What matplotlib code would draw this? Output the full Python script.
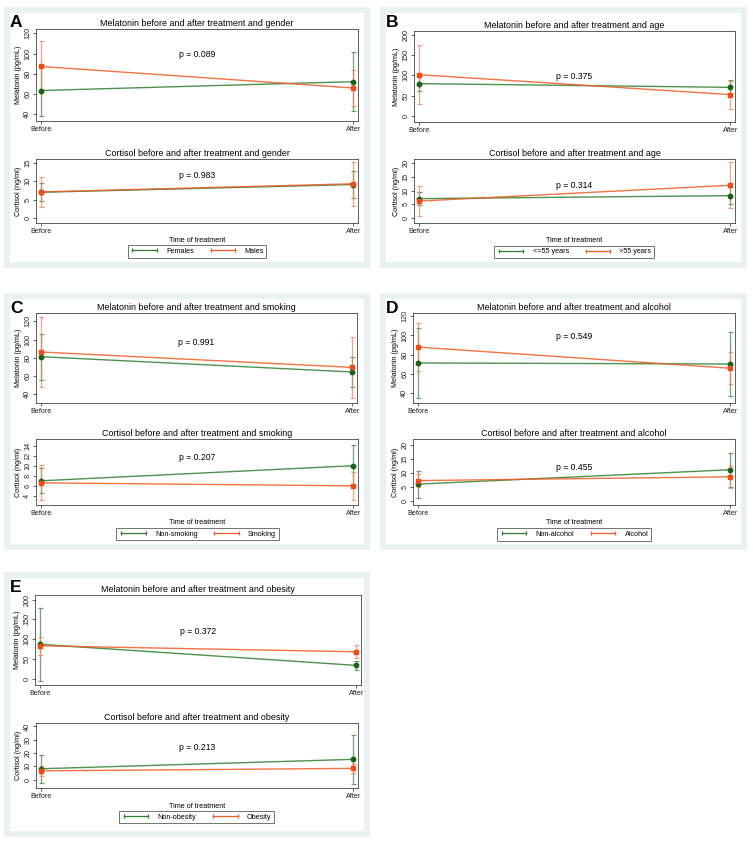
import matplotlib
matplotlib.use("Agg")
import matplotlib.pyplot as plt
from matplotlib.patches import Rectangle
from matplotlib.lines import Line2D

plt.rcParams['font.family'] = ['Liberation Sans', 'DejaVu Sans']

W, H = 753, 844

timepoints = ["Before", "After"]
x_pos = [0, 1]

# A - gender
groups_A = ["Females", "Males"]
mel_A_mean = [[63.5, 72.3], [87.3, 66.0]]
mel_A_err = [[25.3, 29.5], [25.0, 17.3]]
cort_A_mean = [[7.0, 9.1], [7.1, 9.3]]
cort_A_err = [[2.4, 3.6], [4.1, 6.0]]
p_A = ["p = 0.089", "p = 0.983"]

# B - age
groups_B = ["<=55 years", ">55 years"]
mel_B_mean = [[79.6, 70.5], [101.7, 52.6]]
mel_B_err = [[18.5, 17.0], [72.5, 34.6]]
cort_B_mean = [[7.1, 8.2], [6.2, 12.0]]
cort_B_err = [[2.3, 3.2], [5.5, 8.4]]
p_B = ["p = 0.375", "p = 0.314"]

# C - smoking
groups_C = ["Non-smoking", "Smoking"]
mel_C_mean = [[81.1, 64.2], [86.3, 69.3]]
mel_C_err = [[25.5, 16.5], [38.6, 34.0]]
cort_C_mean = [[7.0, 10.0], [6.6, 6.0]]
cort_C_err = [[2.5, 4.1], [3.5, 2.8]]
p_C = ["p = 0.991", "p = 0.207"]

# D - alcohol
groups_D = ["Non-alcohol", "Alcohol"]
mel_D_mean = [[71.4, 70.3], [87.9, 65.9]]
mel_D_err = [[36.4, 33.3], [24.6, 16.7]]
cort_D_mean = [[6.0, 11.1], [7.25, 8.6]]
cort_D_err = [[4.8, 6.0], [2.4, 3.8]]
p_D = ["p = 0.549", "p = 0.455"]

# E - obesity
groups_E = ["Non-obesity", "Obesity"]
mel_E_mean = [[87.5, 34.3], [83.6, 68.6]]
mel_E_err = [[92.0, 12.0], [22.0, 16.3]]
cort_E_mean = [[8.1, 15.2], [6.5, 8.4]]
cort_E_err = [[10.5, 18.5], [3.5, 3.5]]
p_E = ["p = 0.372", "p = 0.213"]

line_cols = ["#2f7f2f", "#f05a24"]
mark_cols = ["#1b611b", "#f04c14"]
err_cols = ["#3c8a3c", "#f0855a"]
markers = ["o", "s"]


def box(l, t, r, b):
    return [l / W, 1 - b / H, (r - l) / W, (b - t) / H]


def panel_frame(fig, l, t, r, b):
    fig.add_artist(Rectangle((l / W, 1 - b / H), (r - l) / W, (b - t) / H,
                             transform=fig.transFigure, facecolor="#eaf1f1",
                             edgecolor="none", zorder=-2))
    d = 6
    fig.add_artist(Rectangle(((l + d) / W, 1 - (b - d) / H), (r - l - 2 * d) / W,
                             (b - t - 2 * d) / H, transform=fig.transFigure,
                             facecolor="white", edgecolor="none", zorder=-1))


def draw_plot(fig, rect, means, errs, title, ylabel, yticks, ylim, ptxt, py, xlabel=False):
    l, t, r, b = rect
    ax = fig.add_axes(box(l, t, r, b))
    for i in range(2):
        ax.errorbar(x_pos, means[i], yerr=errs[i], fmt="none", ecolor=err_cols[i],
                    elinewidth=0.9, capsize=1.8, capthick=0.9, alpha=0.75, zorder=2)
    for i in range(2):
        ax.plot(x_pos, means[i], color=line_cols[i], lw=1.0, alpha=0.85, zorder=3)
        ax.plot(x_pos, means[i], linestyle="none", marker=markers[i], ms=3.2,
                color=mark_cols[i], zorder=4)
    ax.set_xlim(-0.015, 1.015)
    ax.set_ylim(*ylim)
    ax.set_xticks(x_pos)
    ax.set_xticklabels(timepoints)
    ax.set_yticks(yticks)
    ax.set_yticklabels([str(v) for v in yticks], rotation=90, va="center")
    ax.tick_params(labelsize=5.2, length=2.2, width=0.5, pad=1.2, colors="#222222")
    for s in ax.spines.values():
        s.set_linewidth(0.6)
        s.set_color("#444444")
    ax.set_ylabel(ylabel, fontsize=5.2, labelpad=1.5)
    ax.text(0.5, py, ptxt, transform=ax.transAxes, ha="center", va="center", fontsize=6.2)
    fig.text((l + r) / 2 / W, 1 - (t - 5.5) / H, title, ha="center", va="center", fontsize=6.4)
    if xlabel:
        ax.set_xlabel("Time of treatment", fontsize=5.2, labelpad=2)
    return ax


def make_panel(fig, letter, frame, top_rect, bot_rect, groups, mel_m, mel_e, cort_m, cort_e,
               pvals, pys, topic, mel_ticks, mel_lim, cort_ticks, cort_lim, leg_xy):
    panel_frame(fig, *frame)
    fig.text((frame[0] + 6) / W, 1 - (frame[1] + 20) / H, letter, fontsize=12.5,
             fontweight="bold", ha="left", va="baseline")
    draw_plot(fig, top_rect, mel_m, mel_e, "Melatonin before and after treatment and " + topic,
              "Melatonin (pg/mL)", mel_ticks, mel_lim, pvals[0], pys[0])
    draw_plot(fig, bot_rect, cort_m, cort_e, "Cortisol before and after treatment and " + topic,
              "Cortisol (ng/ml)", cort_ticks, cort_lim, pvals[1], pys[1], xlabel=True)
    handles = [Line2D([0, 1], [0, 0], color=line_cols[i], lw=0.9, marker="|", ms=3.5,
                      mew=0.9) for i in range(2)]
    leg = fig.legend(handles, groups, loc="center", ncol=2, numpoints=2,
                     bbox_to_anchor=(leg_xy[0] / W, 1 - leg_xy[1] / H),
                     fontsize=5.2, handlelength=4.0, handletextpad=1.0, columnspacing=2.0,
                     borderpad=0.35, frameon=True, fancybox=False)
    leg.get_frame().set_edgecolor("#333333")
    leg.get_frame().set_linewidth(0.6)


def main():
    fig = plt.figure(figsize=(W / 100, H / 100), dpi=100)
    fig.patch.set_facecolor("white")

    make_panel(fig, "A", (4, 7, 370, 268), (36, 29, 358, 121), (36, 159, 358, 223),
               groups_A, mel_A_mean, mel_A_err, cort_A_mean, cort_A_err, p_A, (0.725, 0.75),
               "gender", [40, 60, 80, 100, 120], (33.4, 124.3), [0, 5, 10, 15], (-1.3, 16),
               (197, 251.5))
    make_panel(fig, "B", (380, 7, 747, 268), (414, 31, 735, 122), (414, 159, 735, 223),
               groups_B, mel_B_mean, mel_B_err, cort_B_mean, cort_B_err, p_B, (0.505, 0.58),
               "age", [0, 50, 100, 150, 200], (-14.7, 209), [0, 5, 10, 15, 20], (-1.8, 21.6),
               (574, 251.7))
    make_panel(fig, "C", (4, 293, 370, 550), (36, 313, 357, 403), (36, 439, 358, 505),
               groups_C, mel_C_mean, mel_C_err, cort_C_mean, cort_C_err, p_C, (0.674, 0.723),
               "smoking", [40, 60, 80, 100, 120], (30, 129.3), [4, 6, 8, 10, 12, 14], (2.2, 15.3),
               (197.5, 534))
    make_panel(fig, "D", (380, 293, 747, 550), (413, 313, 735, 403), (413, 439, 735, 505),
               groups_D, mel_D_mean, mel_D_err, cort_D_mean, cort_D_err, p_D, (0.737, 0.565),
               "alcohol", [40, 60, 80, 100, 120], (29.7, 123.4), [0, 5, 10, 15, 20], (-1.4, 22),
               (574, 534.5))
    make_panel(fig, "E", (4, 572, 370, 837), (35, 595, 361, 685), (36, 723, 358, 788),
               groups_E, mel_E_mean, mel_E_err, cort_E_mean, cort_E_err, p_E, (0.593, 0.62),
               "obesity", [0, 50, 100, 150, 200], (-15, 211.5), [0, 10, 20, 30, 40], (-6.4, 42.6),
               (196.5, 817))

    fig.savefig("out.png", dpi=100)


if __name__ == "__main__":
    main()
